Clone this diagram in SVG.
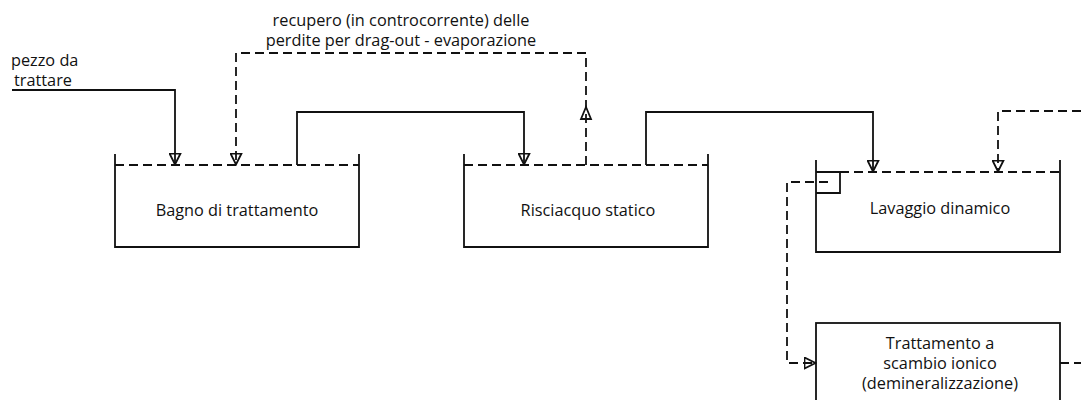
<svg xmlns="http://www.w3.org/2000/svg" width="1081" height="400" viewBox="0 0 1081 400">
<style>
  text { font-family: "Open Sans", "Liberation Sans", sans-serif; font-size: 16.3px; fill: #111; }
  .c { text-anchor: middle; }
  .solid { fill: none; stroke: #111; stroke-width: 1.8; }
  .dash { fill: none; stroke: #111; stroke-width: 1.8; stroke-dasharray: 9 5; }
  .tri { fill: none; stroke: #111; stroke-width: 1.8; }
</style>
<defs>
  <marker id="ah" viewBox="0 0 13 13" refX="12.5" refY="6.5" markerWidth="13" markerHeight="13" markerUnits="userSpaceOnUse" orient="auto">
    <path d="M1,1 L12,6.5 L1,12 z" fill="none" stroke="#111" stroke-width="1.8"/>
  </marker>
</defs>
<rect width="1081" height="400" fill="#fff"/>

<g id="bagno">
  <path class="solid" d="M115,154 V247 H359 V154"/>
  <path class="dash" d="M115,165 H359"/>
  <text class="c" x="237" y="216">Bagno di trattamento</text>
</g>

<g id="risciacquo">
  <path class="solid" d="M464,154 V247 H708 V154"/>
  <path class="dash" d="M464,165 H708"/>
  <text class="c" x="588" y="216">Risciacquo statico</text>
</g>

<g id="lavaggio">
  <path class="solid" d="M816,160 V252 H1060 V160"/>
  <path class="solid" d="M816,172 H840 V193 H816"/>
  <path class="dash" d="M840,172 H1060"/>
  <text class="c" x="940" y="214">Lavaggio dinamico</text>
</g>

<g id="scambio">
  <rect class="solid" x="816" y="323" width="244" height="100"/>
  <text class="c" x="940" y="349">Trattamento a</text>
  <text class="c" x="940" y="369">scambio ionico</text>
  <text class="c" x="940" y="389">(demineralizzazione)</text>
</g>

<g id="labels">
  <text x="11" y="66">pezzo da</text>
  <text x="14" y="86">trattare</text>
  <text class="c" x="401" y="26">recupero (in controcorrente) delle</text>
  <text class="c" x="401" y="46">perdite per drag-out - evaporazione</text>
</g>

<g id="connectors">
  <path class="solid" d="M12,90 H175 V165" marker-end="url(#ah)"/>
  <path class="dash" d="M586,165 V53 H236 V165" marker-end="url(#ah)"/>
  <path class="tri" d="M586,107 L581,119 L591,119 z"/>
  <path class="solid" d="M297,165 V112 H524 V165" marker-end="url(#ah)"/>
  <path class="solid" d="M646,165 V112 H873 V172" marker-end="url(#ah)"/>
  <path class="dash" d="M1081,111 H998 V172" marker-end="url(#ah)"/>
  <path class="dash" d="M828,182 H787 V363 H816" marker-end="url(#ah)"/>
  <path class="dash" d="M1060,363 H1081"/>
</g>
</svg>
